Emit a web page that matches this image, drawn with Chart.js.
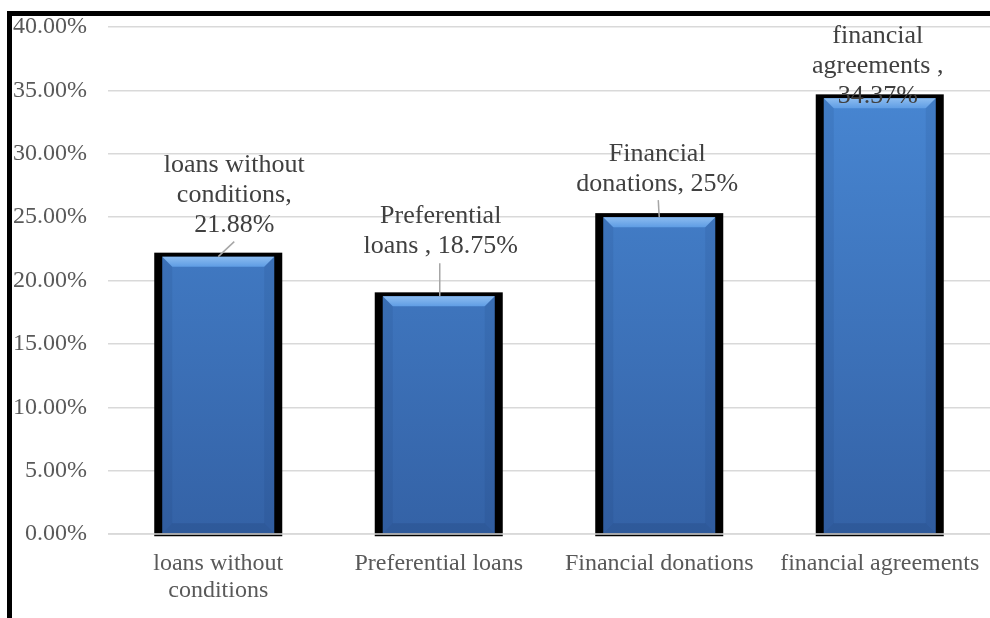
<!DOCTYPE html>
<html>
<head>
<meta charset="utf-8">
<script src="https://cdn.jsdelivr.net/npm/chart.js@4.4.1/dist/chart.umd.min.js"></script>
<style>
  html, body { margin: 0; padding: 0; background: #fff; }
  #wrap { position: relative; width: 990px; height: 618px; overflow: hidden; }
  #wrap canvas { position: absolute; left: 0; top: 0; }
  #frame { position: absolute; left: 7px; top: 11px; right: -20px; bottom: -20px;
           border-top: 5px solid #000; border-left: 5px solid #000; pointer-events: none; }
</style>
</head>
<body>
<div id="wrap">
  <canvas id="chart-funding" width="990" height="618"></canvas>
  <div id="frame"></div>
</div>
<script>
// funding sources, share of total (%)
const categories = [['loans without', 'conditions'], 'Preferential loans', 'Financial donations', 'financial agreements'];
const shares = [21.88, 18.75, 25, 34.37];
const valueLabels = [
  ['loans without', 'conditions,', shares[0] + '%'],
  ['Preferential', 'loans , ' + shares[1] + '%'],
  ['Financial', 'donations, ' + shares[2] + '%'],
  ['financial', 'agreements ,', shares[3] + '%']
];
const yMax = 40, yStep = 5;

const SERIF = '"Liberation Serif", "Times New Roman", serif';

// black halo behind each bar
const barHalo = {
  id: 'barHalo',
  beforeDatasetsDraw(chart){
    const c = chart.ctx;
    c.save();
    c.fillStyle = '#000';
    chart.getDatasetMeta(0).data.forEach(b => {
      const w = b.width;
      c.fillRect(b.x - w/2 - 8, b.y - 4, w + 16, b.base - b.y + 7);
    });
    c.restore();
  }
};

// bevel edges on top of the bar fill
const barBevel = {
  id: 'barBevel',
  afterDatasetsDraw(chart){
    const c = chart.ctx, e = 10;
    c.save();
    chart.getDatasetMeta(0).data.forEach(b => {
      const l = b.x - b.width/2, r = b.x + b.width/2, t = b.y, btm = b.base;
      const top = c.createLinearGradient(0, t, 0, t + e);
      top.addColorStop(0, '#8cbcf0'); top.addColorStop(1, '#5f9de4');
      c.fillStyle = top;
      c.beginPath(); c.moveTo(l, t); c.lineTo(r, t); c.lineTo(r - e, t + e); c.lineTo(l + e, t + e); c.closePath(); c.fill();
      c.fillStyle = 'rgba(20,50,100,0.10)';
      c.beginPath(); c.moveTo(l, t); c.lineTo(l + e, t + e); c.lineTo(l + e, btm - e); c.lineTo(l, btm); c.closePath(); c.fill();
      c.beginPath(); c.moveTo(r, t); c.lineTo(r - e, t + e); c.lineTo(r - e, btm - e); c.lineTo(r, btm); c.closePath(); c.fill();
      c.fillStyle = 'rgba(20,50,100,0.18)';
      c.beginPath(); c.moveTo(l, btm); c.lineTo(l + e, btm - e); c.lineTo(r - e, btm - e); c.lineTo(r, btm); c.closePath(); c.fill();
    });
    // baseline sits over the halo
    const y0 = chart.scales.y.getPixelForValue(0), a = chart.chartArea;
    c.strokeStyle = '#d9d9d9'; c.lineWidth = 1.5;
    c.beginPath(); c.moveTo(a.left, y0); c.lineTo(a.right, y0); c.stroke();
    c.restore();
  }
};

// value labels with leader lines; dx/dy place the last baseline relative to the bar top
const valueTags = {
  id: 'valueTags',
  afterDraw(chart, args, opts){
    const c = chart.ctx;
    c.save();
    c.font = '26px ' + SERIF;
    c.fillStyle = '#404040';
    c.textAlign = 'center';
    c.textBaseline = 'alphabetic';
    chart.getDatasetMeta(0).data.forEach((b, i) => {
      const p = opts.place[i], lines = valueLabels[i];
      const cx = b.x + p.dx, last = b.y + p.dy;
      if (p.lead) {
        c.strokeStyle = '#a6a6a6'; c.lineWidth = 1.5;
        c.beginPath(); c.moveTo(b.x + p.lead[0], b.y + p.lead[1]); c.lineTo(b.x + p.lead[2], b.y + p.lead[3]); c.stroke();
      }
      lines.forEach((s, k) => c.fillText(s, cx, last - (lines.length - 1 - k) * 30));
    });
    c.restore();
  }
};

const ctx = document.getElementById('chart-funding');
new Chart(ctx, {
  type: 'bar',
  data: {
    labels: categories,
    datasets: [{
      data: shares,
      backgroundColor(context){
        const a = context.chart.chartArea;
        if (!a) return '#3f78c4';
        const g = context.chart.ctx.createLinearGradient(0, a.top, 0, a.bottom);
        g.addColorStop(0, '#4a8bd8'); g.addColorStop(1, '#3462a6');
        return g;
      },
      borderWidth: 0,
      categoryPercentage: 1,
      barPercentage: 0.508
    }]
  },
  options: {
    responsive: false,
    animation: false,
    layout: { padding: { top: 27, right: 0, left: 0, bottom: 0 } },
    plugins: {
      legend: { display: false },
      tooltip: { enabled: false },
      valueTags: {
        place: [
          { dx: 16, dy: -25, lead: [16, -15, 0, 0] },
          { dx: 2, dy: -43, lead: [1, -33, 1, 0] },
          { dx: -2, dy: -26, lead: [-1, -17, 0, 0] },
          { dx: -2, dy: 5, lead: null }
        ]
      }
    },
    scales: {
      x: {
        grid: { display: false, drawTicks: false },
        border: { display: false },
        ticks: { color: '#595959', font: { family: SERIF, size: 24, lineHeight: 1.12 }, padding: 16, maxRotation: 0, autoSkip: false },
        afterFit(s){ s.height = 84; s.paddingLeft = 0; s.paddingRight = 0; }
      },
      y: {
        min: 0, max: yMax,
        grid: { color: '#d9d9d9', lineWidth: 1.5, drawTicks: false },
        border: { display: false },
        ticks: { stepSize: yStep, color: '#595959', font: { family: SERIF, size: 24 }, padding: 21,
                 callback: v => v.toFixed(2) + '%' },
        afterFit(s){ s.width = 108; s.paddingTop = 0; s.paddingBottom = 0; }
      }
    }
  },
  plugins: [barHalo, barBevel, valueTags]
});
</script>
</body>
</html>
